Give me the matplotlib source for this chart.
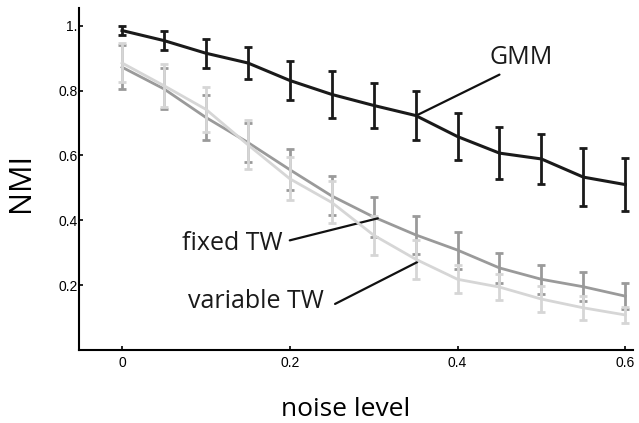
import matplotlib
matplotlib.use('Agg')
import matplotlib.pyplot as plt
import numpy as np

plt.rcParams.update({'font.family': ['Liberation Sans', 'DejaVu Sans']})

noise = [0, 0.05, 0.1, 0.15, 0.2, 0.25, 0.3, 0.35, 0.4, 0.45, 0.5, 0.55, 0.6]

gmm = [0.985, 0.954, 0.915, 0.885, 0.831, 0.788, 0.754, 0.723, 0.658, 0.607, 0.589, 0.533, 0.510]
gmm_err = [0.015, 0.028, 0.045, 0.050, 0.060, 0.073, 0.070, 0.075, 0.073, 0.080, 0.076, 0.090, 0.082]

fixed_tw = [0.872, 0.805, 0.717, 0.640, 0.556, 0.475, 0.410, 0.355, 0.308, 0.253, 0.218, 0.195, 0.166]
fixed_err = [0.067, 0.063, 0.070, 0.060, 0.064, 0.060, 0.062, 0.058, 0.057, 0.047, 0.044, 0.044, 0.040]

variable_tw = [0.885, 0.815, 0.742, 0.633, 0.528, 0.455, 0.354, 0.280, 0.218, 0.194, 0.157, 0.130, 0.108]
variable_err = [0.060, 0.067, 0.070, 0.075, 0.066, 0.065, 0.060, 0.060, 0.043, 0.040, 0.040, 0.036, 0.025]

yticks = [0.2, 0.4, 0.6, 0.8, 1.0]
ytick_labels = ['0.2', '0.4', '0.6', '0.8', '1.']
xticks = [0, 0.2, 0.4, 0.6]
xtick_labels = ['0', '0.2', '0.4', '0.6']

fig = plt.figure(figsize=(6.39, 4.23), dpi=100)
ax = fig.add_axes([0.124, 0.1726, 0.867, 0.8074])

ax.errorbar(noise, fixed_tw, yerr=fixed_err, color='#9a9a9a', lw=2, elinewidth=2,
            capsize=3, capthick=2, zorder=2)
ax.errorbar(noise, variable_tw, yerr=variable_err, color='#d6d6d6', lw=2, elinewidth=2,
            capsize=3, capthick=2, zorder=3)
ax.errorbar(noise, gmm, yerr=gmm_err, color='#1a1a1a', lw=2.2, elinewidth=2,
            capsize=3, capthick=2, zorder=4)

# labels with leader lines
ann_font = dict(family=['Open Sans', 'DejaVu Sans'], fontsize=18, color='#1a1a1a')
ax.annotate('', xy=(0.351, 0.723), xytext=(0.45, 0.849),
            arrowprops=dict(arrowstyle='-', color='#111111', lw=1.6, shrinkA=0, shrinkB=0))
ax.text(0.476, 0.902, 'GMM', ha='center', va='center', **ann_font)
ax.annotate('', xy=(0.305, 0.406), xytext=(0.2, 0.338),
            arrowprops=dict(arrowstyle='-', color='#111111', lw=1.6, shrinkA=0, shrinkB=0))
ax.text(0.131, 0.329, 'fixed TW', ha='center', va='center', **ann_font)
ax.annotate('', xy=(0.352, 0.271), xytext=(0.254, 0.142),
            arrowprops=dict(arrowstyle='-', color='#111111', lw=1.6, shrinkA=0, shrinkB=0))
ax.text(0.16, 0.148, 'variable TW', ha='center', va='center', **ann_font)

ax.set_xlim(-0.051, 0.6095)
ax.set_ylim(0, 1.053)
ax.set_xticks(xticks)
ax.set_xticklabels(xtick_labels)
ax.set_yticks(yticks)
ax.set_yticklabels(ytick_labels)
ax.tick_params(direction='in', length=3, width=1.2, labelsize=10)
ax.tick_params(axis='x', pad=4)
ax.tick_params(axis='y', pad=1)
ax.spines['top'].set_visible(False)
ax.spines['right'].set_visible(False)
ax.spines['left'].set_linewidth(1.5)
ax.spines['bottom'].set_linewidth(1.5)

ax.set_xlabel('noise level', family=['Open Sans', 'DejaVu Sans'], fontsize=19, va='center')
ax.set_ylabel('NMI', family=['Open Sans', 'DejaVu Sans'], fontsize=22, va='center')
ax.xaxis.set_label_coords(0.5 - 0.02, -0.175)
ax.yaxis.set_label_coords(-0.105, 0.49)

fig.savefig('out.png', dpi=100)
